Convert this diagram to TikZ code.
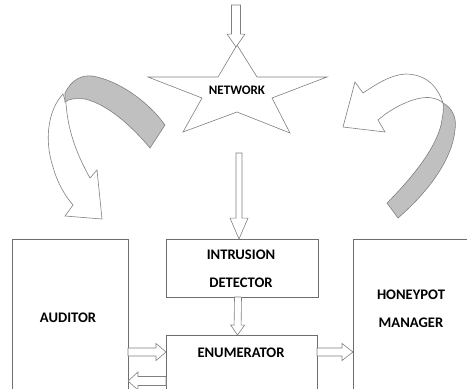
\documentclass[tikz,border=0pt]{standalone}
\usepackage{fontspec}
\setmainfont{Carlito}
\usetikzlibrary{calc}
\definecolor{linegray}{HTML}{808080}
\definecolor{boxgray}{HTML}{6E6E6E}
\definecolor{bandgray}{HTML}{C0C0C0}
% #1 start, #2 tip, #3 shaft half width, #4 head half width, #5 head length (pt)
\newcommand\blockarrow[5]{%
 \draw[blockarr] let \p1=(#1), \p2=(#2), \n1={atan2(\y2-\y1,\x2-\x1)}, \n2={veclen(\x2-\x1,\y2-\y1)-#5} in
 ($(\p1)+(\n1+90:#3)$) -- ($(\p1)+(\n1:\n2)+(\n1+90:#3)$) -- ($(\p1)+(\n1:\n2)+(\n1+90:#4)$) -- (\p2)
 -- ($(\p1)+(\n1:\n2)+(\n1-90:#4)$) -- ($(\p1)+(\n1:\n2)+(\n1-90:#3)$) -- ($(\p1)+(\n1-90:#3)$) -- cycle;}
\begin{document}
\begin{tikzpicture}[x=1bp,y=-1bp,
 box/.style={draw=boxgray, line width=0.7bp, inner sep=0pt, outer sep=0pt, anchor=north west},
 blockarr/.style={draw=linegray, line width=0.6bp, fill=white, line join=miter},
 curvewhite/.style={draw=linegray, line width=0.6bp, fill=white},
 curvegray/.style={draw=linegray, line width=0.6bp, fill=bandgray},
 lbl/.style={font=\fontsize{14.6bp}{28bp}\selectfont\bfseries, align=center, inner sep=0pt}]
\useasboundingbox (0,0) rectangle (467,388);
\clip (0,0) rectangle (467,388);

% boxes
\node[box, minimum width=116bp, minimum height=155bp] (auditor) at (12,239) {};
\node[box, minimum width=152bp, minimum height=58bp] (detector) at (166,239) {};
\node[box, minimum width=151bp, minimum height=60bp] (enumerator) at (166,335) {};
\node[box, minimum width=125bp, minimum height=155bp] (honeypot) at (353,239) {};

% labels
\node[lbl] (auditorlbl) at (68,318) {AUDITOR};
\node[lbl] (detectorlbl) at (241,269) {INTRUSION\\DETECTOR};
\node[lbl] (enumeratorlbl) at (241,353) {ENUMERATOR};
\node[lbl] (honeypotlbl) at (411,309) {HONEYPOT\\MANAGER};

% star
\draw[draw=linegray, line width=0.6bp, fill=white]
 (237,45) -- (257,77) -- (327,77) -- (272,98) -- (290,133) -- (237,112)
 -- (183,132) -- (202,98) -- (148,77) -- (218,77) -- cycle;
\node[font=\fontsize{13bp}{15bp}\selectfont\bfseries, inner sep=0pt] (network) at (237,90) {NETWORK};
\coordinate (startop) at (236,47);
\coordinate (topin) at (236,5);
\coordinate (netout) at (239,153);

% straight block arrows
\blockarrow{topin}{startop}{4.5bp}{9bp}{13}
\blockarrow{netout}{netout |- detector.north}{3bp}{9bp}{21}
\blockarrow{$(detector.south)+(-4,0)$}{$(enumerator.north)+(-4,0)$}{3.5bp}{7bp}{10}
\blockarrow{$(auditor.north east)+(0,113)$}{$(enumerator.north west)+(0,17)$}{4bp}{8.5bp}{10}
\blockarrow{$(enumerator.north west)+(0,46)$}{$(auditor.north east)+(0,46+96)$}{4.5bp}{9bp}{10}
\blockarrow{$(enumerator.north east)+(0,17)$}{$(honeypot.north west)+(0,113)$}{4bp}{8.5bp}{11}

% left curved arrow
\draw[curvewhite] (63,94) .. controls (48,110) and (44,140) .. (53,167)
 .. controls (57,182) and (65,196) .. (73,205) -- (65,216) -- (102,219) -- (97,170) -- (90,178)
 .. controls (80,160) and (68,135) .. (66,103) -- cycle;
\draw[curvegray] (65,93) .. controls (72,79) and (82,75) .. (92,76)
 .. controls (117,80) and (147,100) .. (165,125) -- (150,148)
 .. controls (135,130) and (110,105) .. (85,99)
 .. controls (75,98) and (68,99) .. (65,102) -- cycle;

% right curved arrow
\draw[curvewhite] (443,103) .. controls (437,85) and (425,74) .. (405,74)
 .. controls (390,75) and (375,85) .. (363,93) -- (355,82) -- (343,127) -- (385,132) -- (378,120)
 .. controls (395,105) and (420,95) .. (432,98)
 .. controls (438,99) and (441,101) .. (443,103) -- cycle;
\draw[curvegray] (443,103) .. controls (452,108) and (457,117) .. (455,130)
 .. controls (452,160) and (428,192) .. (398,218) -- (387,203)
 .. controls (410,180) and (435,150) .. (441,125)
 .. controls (443,115) and (444,108) .. (443,103) -- cycle;
\end{tikzpicture}
\end{document}
